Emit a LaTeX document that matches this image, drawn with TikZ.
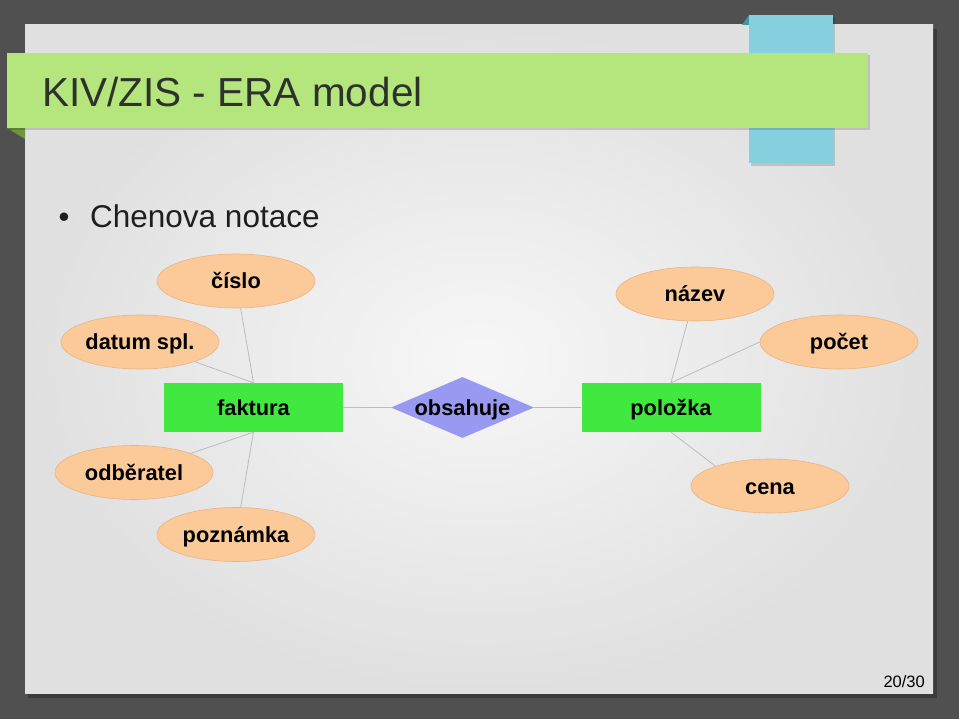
\documentclass[tikz,border=0pt]{standalone}
\usepackage{fontspec}
\setmainfont{Liberation Sans}
\usetikzlibrary{shapes.geometric}
\definecolor{bgdark}{RGB}{80,80,80}
\definecolor{slideedge}{RGB}{224,224,224}
\definecolor{slidemid}{RGB}{247,247,247}
\definecolor{titlegreen}{RGB}{181,230,125}
\definecolor{folddark}{RGB}{110,150,60}
\definecolor{tabblue}{RGB}{132,208,222}
\definecolor{tabfold}{RGB}{70,150,165}
\definecolor{attrfill}{RGB}{252,202,152}
\definecolor{attrdraw}{RGB}{232,180,132}
\definecolor{entfill}{RGB}{64,232,64}
\definecolor{relfill}{RGB}{153,153,242}
\definecolor{linkgray}{RGB}{188,188,188}
\definecolor{titletext}{RGB}{45,50,42}
\definecolor{bodytext}{RGB}{30,30,30}
\begin{document}
\begin{tikzpicture}[x=1pt,y=-1pt,
  attr/.style={ellipse, fill=attrfill, draw=attrdraw, line width=0.6pt,
    minimum width=158pt, minimum height=54pt, inner sep=0pt,
    text height=17pt, text depth=1pt,
    font=\bfseries\fontsize{21.8}{24}\selectfont},
  entity/.style={rectangle, fill=entfill, minimum width=179pt, minimum height=49pt,
    inner sep=0pt, text height=17pt, text depth=1pt,
    font=\bfseries\fontsize{21.8}{24}\selectfont},
  rel/.style={diamond, fill=relfill, minimum width=143pt, minimum height=61pt,
    inner sep=0pt, shape aspect=2.34, text height=17pt, text depth=1pt,
    font=\bfseries\fontsize{21.8}{24}\selectfont},
  link/.style={draw=linkgray, line width=0.8pt}
]
\useasboundingbox (0,0) rectangle (959,719);
% background
\fill[bgdark] (0,0) rectangle (959,719);
% slide shadow
\fill[black, opacity=0.25] (28,29) rectangle (937,698);
% slide
\shade[inner color=slidemid, outer color=slideedge] (25,25) rectangle (933,693);
% blue tab
\fill[tabfold] (742,25) -- (749,15) -- (749,25) -- cycle;
\fill[black, opacity=0.15] (751,17) rectangle (835,166);
\fill[tabblue] (749,15) rectangle (833,163);
% green title bar
\fill[folddark] (7,128) -- (25,128) -- (25,139) -- cycle;
\fill[black, opacity=0.15] (9,55) rectangle (870,130);
\fill[titlegreen] (7,53) rectangle (868,128);
\node[anchor=base west, inner sep=0pt, text=titletext, font=\fontsize{40.5}{44}\selectfont] (title) at (42,107) {KIV/ZIS - ERA model};
% bullet
\node[anchor=base, inner sep=0pt, text=bodytext, font=\fontsize{31}{34}\selectfont] (bul) at (64,228) {•};
\node[anchor=base west, inner sep=0pt, text=bodytext, font=\fontsize{31.5}{34}\selectfont] (sub) at (90,228) {Chenova notace};
% diagram
\node[entity] (faktura) at (253.5,407.5) {faktura};
\node[rel] (obsahuje) at (462.5,407.5) {obsahuje};
\node[entity] (polozka) at (671,407.5) {položka};
\node[attr] (cislo) at (236,281) {číslo};
\node[attr] (datum) at (140,342) {datum spl.};
\node[attr] (odberatel) at (134,472.5) {odběratel};
\node[attr] (poznamka) at (236,534.5) {poznámka};
\node[attr] (nazev) at (695,294) {název};
\node[attr] (pocet) at (839,342) {počet};
\node[attr] (cena) at (770,486) {cena};
\draw[link] (cislo) -- (faktura.north);
\draw[link] (datum) -- (faktura.north);
\draw[link] (odberatel) -- (faktura.south);
\draw[link] (poznamka) -- (faktura.south);
\draw[link] (faktura.east) -- (obsahuje.west);
\draw[link] (obsahuje.east) -- (polozka.west);
\draw[link] (nazev) -- (polozka.north);
\draw[link] (pocet.west) -- (polozka.north);
\draw[link] (cena.160) -- (polozka.south);
% page number
\node[anchor=base east, inner sep=0pt, text=black, font=\fontsize{16.5}{19}\selectfont] (page) at (925,687) {20/30};
\end{tikzpicture}
\end{document}
